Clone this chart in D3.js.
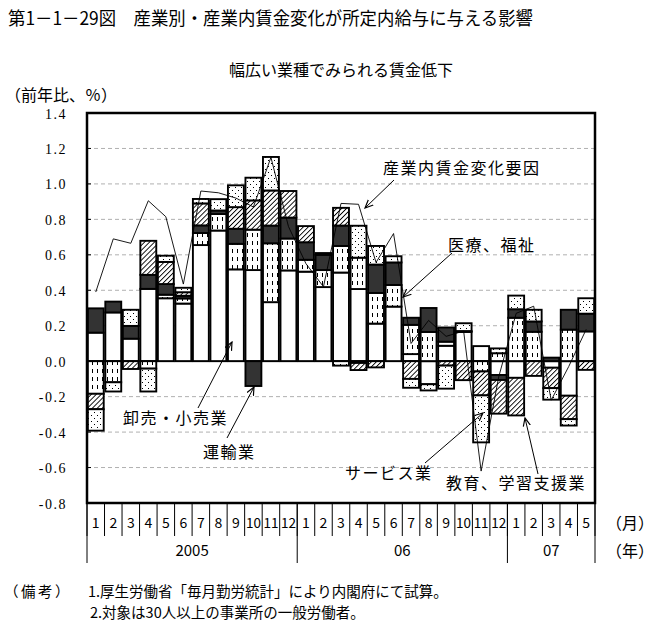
<!DOCTYPE html>
<html><head><meta charset="utf-8">
<script src="https://cdn.jsdelivr.net/npm/d3@7"></script>
<style>
body{margin:0;background:#fff;}
text{font-family:"Noto Sans CJK JP","Noto Sans",sans-serif;fill:#000;}
.num{font-family:"Liberation Serif","DejaVu Serif",serif;}
</style></head>
<body><svg id="c" width="654" height="630"></svg>
<script>
// ---- data ----
const monthLabels = ["1","2","3","4","5","6","7","8","9","10","11","12","1","2","3","4","5","6","7","8","9","10","11","12","1","2","3","4","5"];
const yearLabels = ["2005","06","07"];
const yearSpans = [12,12,5];
const yTicks = [1.4,1.2,1.0,0.8,0.6,0.4,0.2,0.0,-0.2,-0.4,-0.6,-0.8];
const seriesNames = ["卸売・小売業","医療、福祉","運輸業","教育、学習支援業","サービス業"];
const wholesale = [0.161,0.275,0.127,0.408,0.355,0.325,0.655,0.737,0.518,0.514,0.333,0.512,0.505,0.418,0.50,0.407,0.212,0.308,0.04,-0.13,0.087,0.165,0.085,-0.078,-0.094,0,-0.037,-0.195,0.168];
const medical   = [-0.184,-0.119,0,-0.042,0.02,0.029,0.068,0.093,0.144,0.228,0.332,0.18,0.067,0.096,0.15,0.177,0.173,0.122,0.165,0.165,0.023,0,-0.058,0.045,0.245,0.166,0,0.178,0];
const transport = [0.137,0.061,0.072,0.079,0.06,0.015,0.043,0.02,0.085,-0.14,0.1,0.118,0.099,0.086,0.115,-0.01,0.16,0.127,0.04,0.135,0.08,0.005,0,-0.028,0.048,0.058,0.02,0.112,0.1];
const education = [-0.087,0,-0.044,0.192,0.125,0.02,0.124,0,0.122,0.165,0.198,0.15,0.091,0,0.10,-0.04,-0.035,0,-0.1,0,-0.025,-0.107,-0.135,-0.19,-0.212,-0.083,-0.115,-0.132,-0.049];
const service   = [-0.121,-0.052,0.091,-0.129,0.035,0.025,0.025,0.064,0.123,0.128,0.189,0,0,0.01,-0.025,0.18,0.105,0.035,-0.05,-0.035,-0.13,0.044,-0.265,0.027,0.077,0.066,-0.065,-0.036,0.087];
const withinIndustry = [0.39,0.69,0.665,0.905,0.815,0.435,0.96,0.95,0.92,0.87,1.15,0.76,0.55,0.42,0.89,0.885,0.557,0.72,0.10,0.23,0.14,0.17,-0.62,-0.09,0.27,0.31,-0.22,-0.03,0.18];

// ---- setup ----
const svg = d3.select("#c");
const L=87,R=595,T=113,B=503;
const n = monthLabels.length;
const x = d3.scaleBand().domain(d3.range(n)).range([L,R]).padding(0);
const y = d3.scaleLinear().domain([-0.8,1.4]).range([B,T]);

const defs = svg.append("defs");
const pDash = defs.append("pattern").attr("id","pDash").attr("patternUnits","userSpaceOnUse").attr("width",5).attr("height",8);
pDash.append("rect").attr("width",5).attr("height",8).attr("fill","#fff");
pDash.append("rect").attr("x",2).attr("y",1).attr("width",1).attr("height",4).attr("fill","#000");
const pDot = defs.append("pattern").attr("id","pDot").attr("patternUnits","userSpaceOnUse").attr("width",6).attr("height",6);
pDot.append("rect").attr("width",6).attr("height",6).attr("fill","#fff");
pDot.append("rect").attr("x",1).attr("y",1).attr("width",1).attr("height",1).attr("fill","#000");
pDot.append("rect").attr("x",4).attr("y",4).attr("width",1).attr("height",1).attr("fill","#000");
const pHatch = defs.append("pattern").attr("id","pHatch").attr("patternUnits","userSpaceOnUse").attr("width",3.5).attr("height",10).attr("patternTransform","rotate(45)");
pHatch.append("rect").attr("width",3.5).attr("height",10).attr("fill","#fff");
pHatch.append("rect").attr("x",0).attr("width",0.9).attr("height",10).attr("fill","#000");
defs.append("marker").attr("id","arr").attr("viewBox","0 0 10 10").attr("refX",9).attr("refY",5)
  .attr("markerWidth",9).attr("markerHeight",9).attr("markerUnits","userSpaceOnUse").attr("orient","auto")
  .append("path").attr("d","M0,1 L9,5 L0,9").attr("fill","none").attr("stroke","#000").attr("stroke-width",1.3);

const fills = ["#fff","url(#pDash)","#333","url(#pHatch)","url(#pDot)"];

// titles
svg.append("text").attr("x",8).attr("y",25).attr("font-size",18).attr("textLength",525).attr("lengthAdjust","spacingAndGlyphs")
  .text("第1－1－29図　産業別・産業内賃金変化が所定内給与に与える影響");
svg.append("text").attr("x",(L+R)/2).attr("y",76).attr("font-size",16).attr("text-anchor","middle")
  .text("幅広い業種でみられる賃金低下");
svg.append("text").attr("x",5).attr("y",101).attr("font-size",16).text("（前年比、％）");

// grid
svg.append("g").selectAll("line").data(yTicks.filter(v=>v!==0 && v!==1.4 && v!==-0.8)).join("line")
  .attr("x1",L).attr("x2",R).attr("y1",d=>y(d)).attr("y2",d=>y(d))
  .attr("stroke","#b0b0b0").attr("stroke-dasharray","4,3").attr("stroke-width",1);

// y axis labels
svg.append("g").selectAll("text").data(yTicks).join("text").attr("class","num")
  .attr("x",67).attr("y",d=>y(d)+5.5).attr("text-anchor","end").attr("font-size",14).attr("letter-spacing","1.5")
  .text(d=>d.toFixed(1));
svg.append("g").selectAll("line").data(yTicks).join("line")
  .attr("x1",L).attr("x2",L+4).attr("y1",d=>y(d)).attr("y2",d=>y(d)).attr("stroke","#000");

// stacked bars
const table = d3.range(n).map(i=>({i, s0:wholesale[i], s1:medical[i], s2:transport[i], s3:education[i], s4:service[i]}));
const stack = d3.stack().keys(["s0","s1","s2","s3","s4"]).offset(d3.stackOffsetDiverging);
const layers = stack(table);
layers.forEach((layer,k)=>{
  svg.append("g").selectAll("rect").data(layer.filter(d=>d[1]!==d[0])).join("rect")
    .attr("x",d=>x(d.data.i)+0.8).attr("width",x.bandwidth()-1.6)
    .attr("y",d=>y(Math.max(d[0],d[1]))).attr("height",d=>Math.abs(y(d[0])-y(d[1])))
    .attr("fill",fills[k]).attr("stroke","#000").attr("stroke-width",1.9);
});

// zero line
svg.append("line").attr("x1",L).attr("x2",R).attr("y1",y(0)).attr("y2",y(0)).attr("stroke","#000").attr("stroke-width",1);

// line series
svg.append("path").datum(withinIndustry)
  .attr("d",d3.line().x((d,i)=>x(i)+x.bandwidth()/2).y(d=>y(d)))
  .attr("fill","none").attr("stroke","#000").attr("stroke-width",0.9);

// frame
svg.append("rect").attr("x",L).attr("y",T).attr("width",R-L).attr("height",B-T).attr("fill","none").attr("stroke","#000").attr("stroke-width",2.5);

// x axis: months
const gx = svg.append("g");
gx.selectAll("line.m").data(d3.range(n+1)).join("line")
  .attr("x1",i=>L+i*x.bandwidth()).attr("x2",i=>L+i*x.bandwidth()).attr("y1",B).attr("y2",536).attr("stroke","#000");
gx.selectAll("text.m").data(monthLabels).join("text")
  .attr("x",(d,i)=>x(i)+x.bandwidth()/2).attr("y",528).attr("text-anchor","middle").attr("font-size",14)
  .attr("textLength",d=>d.length>1?15:null).attr("lengthAdjust","spacingAndGlyphs")
  .text(d=>d);
let acc=0; const yb=[0];
yearSpans.forEach(s=>{acc+=s; yb.push(acc);});
gx.selectAll("line.y").data(yb).join("line")
  .attr("x1",i=>L+i*x.bandwidth()).attr("x2",i=>L+i*x.bandwidth()).attr("y1",B).attr("y2",563).attr("stroke","#000");
gx.selectAll("text.y").data(yearLabels).join("text")
  .attr("x",(d,k)=>L+(yb[k]+yb[k+1])/2*x.bandwidth()).attr("y",556).attr("text-anchor","middle").attr("font-size",15)
  .text(d=>d);
svg.append("text").attr("x",606).attr("y",529).attr("font-size",16).text("（月）");
svg.append("text").attr("x",606).attr("y",557).attr("font-size",16).text("（年）");

// notes
svg.append("text").attr("x",4).attr("y",597).attr("font-size",14.5).attr("letter-spacing","2.5").text("（備考）");
svg.append("text").attr("x",88).attr("y",597).attr("font-size",14.5).text("1.厚生労働省「毎月勤労統計」により内閣府にて試算。");
svg.append("text").attr("x",90).attr("y",618).attr("font-size",14.5).text("2.対象は30人以上の事業所の一般労働者。");

// annotations
const ann = [
  {t:"産業内賃金変化要因", tx:383, ty:174, x1:394, y1:180, x2:365, y2:208},
  {t:"医療、福祉", tx:448, ty:251, x1:452, y1:253, x2:403, y2:297},
  {t:"卸売・小売業", tx:123, ty:424, x1:198, y1:408, x2:232, y2:342},
  {t:"運輸業", tx:203, ty:458, x1:227, y1:438, x2:254, y2:387},
  {t:"サービス業", tx:345, ty:479, x1:425, y1:463, x2:483, y2:413},
  {t:"教育、学習支援業", tx:446, ty:489, x1:538, y1:474, x2:525, y2:418}
];
ann.forEach(a=>{
  svg.append("text").attr("x",a.tx).attr("y",a.ty).attr("font-size",16).attr("letter-spacing","1.5").text(a.t);
  svg.append("line").attr("x1",a.x1).attr("y1",a.y1).attr("x2",a.x2).attr("y2",a.y2)
    .attr("stroke","#000").attr("stroke-width",1).attr("marker-end","url(#arr)");
});
</script></body></html>
